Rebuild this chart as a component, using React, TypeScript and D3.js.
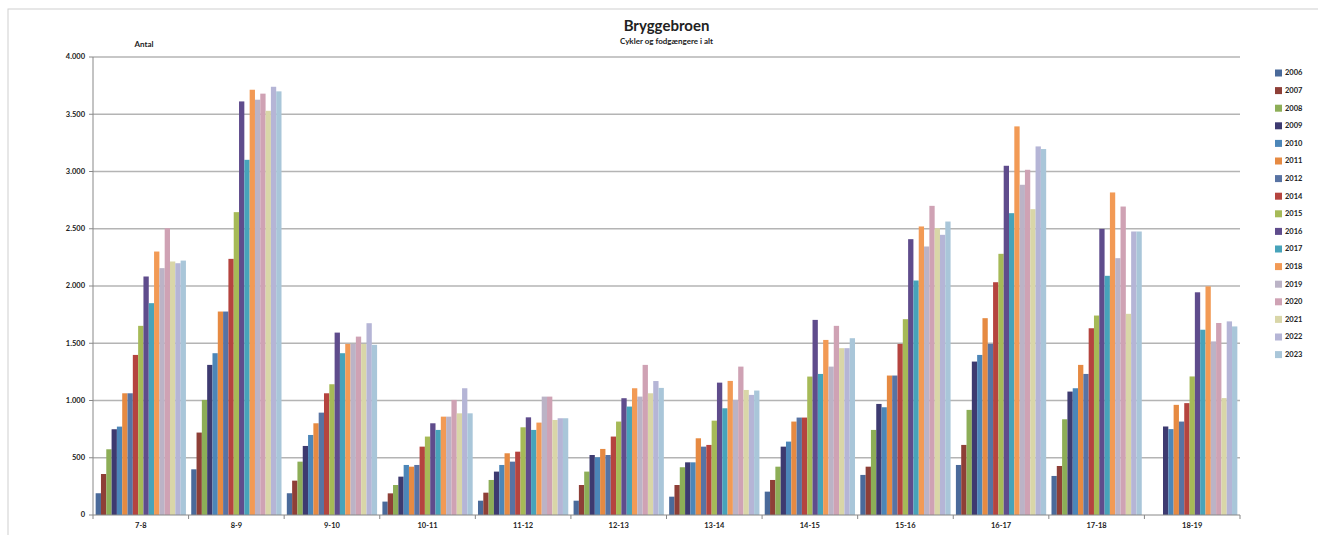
import React from "react";
import * as d3 from "d3";

const hours = ["7-8", "8-9", "9-10", "10-11", "11-12", "12-13", "13-14", "14-15", "15-16", "16-17", "17-18", "18-19"];

const years = ["2006", "2007", "2008", "2009", "2010", "2011", "2012", "2014", "2015", "2016", "2017", "2018", "2019", "2020", "2021", "2022", "2023"];

// one array per year, values per hour (null = no count that hour)
const y2006 = [190, 399, 190, 117, 125, 125, 160, 204, 350, 437, 341, null];
const y2007 = [358, 720, 300, 189, 195, 262, 262, 306, 422, 612, 428, null];
const y2008 = [574, 1005, 466, 262, 306, 379, 417, 422, 743, 918, 836, null];
const y2009 = [749, 1311, 603, 335, 379, 524, 460, 597, 970, 1340, 1078, 773];
const y2010 = [772, 1413, 699, 437, 437, 504, 460, 641, 941, 1398, 1107, 750];
const y2011 = [1063, 1777, 801, 422, 539, 577, 670, 816, 1218, 1719, 1311, 962];
const y2012 = [1063, 1777, 894, 437, 466, 524, 597, 851, 1218, 1494, 1232, 816];
const y2014 = [1398, 2237, 1063, 597, 553, 685, 612, 851, 1494, 2033, 1631, 977];
const y2015 = [1652, 2645, 1142, 685, 766, 816, 824, 1209, 1710, 2281, 1742, 1210];
const y2016 = [2083, 3612, 1593, 801, 853, 1020, 1156, 1704, 2409, 3050, 2499, 1945];
const y2017 = [1850, 3102, 1413, 743, 743, 947, 932, 1232, 2048, 2636, 2089, 1618];
const y2018 = [2301, 3714, 1494, 859, 807, 1107, 1171, 1529, 2520, 3394, 2817, 1997];
const y2019 = [2156, 3627, 1494, 859, 1034, 1034, 1005, 1296, 2345, 2884, 2243, 1516];
const y2020 = [2505, 3680, 1558, 1005, 1034, 1311, 1296, 1652, 2700, 3015, 2694, 1677];
const y2021 = [2214, 3530, 1494, 888, 830, 1063, 1092, 1457, 2505, 2671, 1757, 1021];
const y2022 = [2199, 3740, 1675, 1107, 845, 1170, 1049, 1457, 2447, 3219, 2476, 1691];
const y2023 = [2222, 3700, 1486, 888, 845, 1110, 1087, 1544, 2563, 3196, 2476, 1647];

const series = [y2006, y2007, y2008, y2009, y2010, y2011, y2012, y2014, y2015, y2016, y2017, y2018, y2019, y2020, y2021, y2022, y2023];

const colors = [
  "#4A6A9A", "#8E3F37", "#8DAE57", "#3D3A70", "#4C86B8", "#E68A42",
  "#5873A3", "#B5443F", "#A6BA57", "#5F4C8C", "#47A3BA", "#F29A55",
  "#BBB3C6", "#CFA2B4", "#D9D6A8", "#B5B5D6", "#A9C6D9",
];

const yTicks = [0, 500, 1000, 1500, 2000, 2500, 3000, 3500, 4000];

const W = 1318;
const H = 535;
const font = "Lato, 'Open Sans', sans-serif";

export default function App() {
  const left = 93;
  const right = 1240;
  const top = 57;
  const bottom = 515;

  const x0 = d3.scaleBand().domain(hours).range([left, right]);
  const x1 = d3
    .scaleBand()
    .domain(years)
    .range([0, x0.bandwidth()])
    .paddingInner(0)
    .paddingOuter(0.5);
  const y = d3.scaleLinear().domain([0, 4000]).range([bottom, top]);

  const fmt = (v: number) => d3.format(",")(v).replace(/,/g, ".");

  return (
    <svg
      width={W}
      height={H}
      style={{ position: "absolute", left: 0, top: 0, background: "#fff" }}
      fontFamily={font}
    >
      {/* chart frame */}
      <rect x={8} y={9} width={W + 20} height={H + 20} fill="none" stroke="#d0d0d0" />

      <text x={(left + right) / 2} y={31} textAnchor="middle" fontSize={15} fontWeight="bold" fill="#222">
        Bryggebroen
      </text>
      <text x={(left + right) / 2} y={44} textAnchor="middle" fontSize={8} fontWeight="bold" fill="#222">
        Cykler og fodgængere i alt
      </text>
      <text x={144} y={47} textAnchor="middle" fontSize={8} fontWeight="bold" fill="#222">
        Antal
      </text>

      {/* gridlines + y ticks */}
      {yTicks.map((t) => (
        <g key={t}>
          {t > 0 && (
            <line x1={left} x2={right} y1={y(t)} y2={y(t)} stroke="#b4b4b4" strokeWidth={1.6} />
          )}
          <line x1={left - 4} x2={left} y1={y(t)} y2={y(t)} stroke="#888" />
          <text x={85} y={y(t)} dy="0.33em" textAnchor="end" fontSize={7.5} fontWeight="bold" fill="#222">
            {fmt(t)}
          </text>
        </g>
      ))}

      {/* bars */}
      {hours.map((h, i) => (
        <g key={h} transform={`translate(${x0(h)},0)`}>
          {series.map((s, j) =>
            s[i] == null ? null : (
              <rect
                key={years[j]}
                x={x1(years[j])}
                y={y(s[i] as number)}
                width={x1.bandwidth()}
                height={bottom - y(s[i] as number)}
                fill={colors[j]}
              />
            ),
          )}
        </g>
      ))}

      {/* axes */}
      <line x1={left} x2={left} y1={top} y2={bottom} stroke="#888" />
      <line x1={left} x2={right} y1={bottom} y2={bottom} stroke="#888" />
      {hours.map((h) => (
        <g key={h}>
          <line x1={x0(h)} x2={x0(h)} y1={bottom} y2={bottom + 4} stroke="#888" />
          <text
            x={(x0(h) as number) + x0.bandwidth() / 2}
            y={528}
            textAnchor="middle"
            fontSize={7.5}
            fontWeight="bold"
            fill="#222"
          >
            {h}
          </text>
        </g>
      ))}
      <line x1={right} x2={right} y1={bottom} y2={bottom + 4} stroke="#888" />

      {/* legend */}
      {years.map((yr, j) => (
        <g key={yr} transform={`translate(1275,${73 + j * 17.6})`}>
          <rect x={0} y={-3.5} width={7} height={7} fill={colors[j]} />
          <text x={10} y={0} dy="0.33em" fontSize={7.5} fontWeight="bold" fill="#222">
            {yr}
          </text>
        </g>
      ))}
    </svg>
  );
}
